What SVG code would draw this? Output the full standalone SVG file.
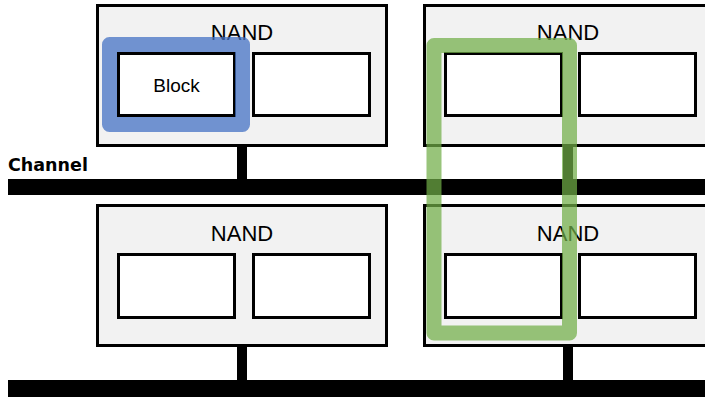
<svg xmlns="http://www.w3.org/2000/svg" width="705" height="399" viewBox="0 0 705 399">
  <style>
    .nand { fill: #f2f2f2; stroke: #000; stroke-width: 3; }
    .blk { fill: #fff; stroke: #000; stroke-width: 3; }
    .bus { fill: #000; }
    .lbl { font-family: "Liberation Sans", Arial, sans-serif; fill: #000; text-anchor: middle; }
    .ttl { font-size: 22px; }
    .sel { fill: none; stroke-width: 15; stroke-linejoin: round; }
  </style>

  <!-- channels and stems -->
  <g id="connectors">
    <rect class="bus" x="8" y="179" width="697" height="16"/>
    <rect class="bus" x="8" y="380" width="697" height="17"/>
    <rect class="bus" x="237" y="146" width="10" height="34"/>
    <rect class="bus" x="563" y="146" width="10" height="34"/>
    <rect class="bus" x="237" y="346" width="10" height="35"/>
    <rect class="bus" x="563" y="346" width="10" height="35"/>
  </g>

  <text x="8" y="171" font-family="'DejaVu Sans', Verdana, sans-serif" font-weight="bold" font-size="17.5">Channel</text>

  <g id="nand-top-left">
    <rect class="nand" x="97.5" y="5.5" width="289" height="140"/>
    <text class="lbl ttl" x="242" y="40">NAND</text>
    <rect class="blk" x="118.5" y="53.5" width="116" height="62"/>
    <text class="lbl" x="176.5" y="92" font-size="19">Block</text>
    <rect class="blk" x="253.5" y="53.5" width="116" height="62"/>
  </g>

  <g id="nand-top-right">
    <rect class="nand" x="424.5" y="5.5" width="289" height="140"/>
    <text class="lbl ttl" x="568" y="40">NAND</text>
    <rect class="blk" x="445.5" y="53.5" width="116" height="62"/>
    <rect class="blk" x="579.5" y="53.5" width="116" height="62"/>
  </g>

  <g id="nand-bottom-left">
    <rect class="nand" x="97.5" y="205.5" width="289" height="140"/>
    <text class="lbl ttl" x="242" y="241">NAND</text>
    <rect class="blk" x="118.5" y="254.5" width="116" height="63"/>
    <rect class="blk" x="253.5" y="254.5" width="116" height="63"/>
  </g>

  <g id="nand-bottom-right">
    <rect class="nand" x="424.5" y="205.5" width="289" height="140"/>
    <text class="lbl ttl" x="568" y="241">NAND</text>
    <rect class="blk" x="445.5" y="254.5" width="116" height="63"/>
    <rect class="blk" x="579.5" y="254.5" width="116" height="63"/>
  </g>

  <!-- highlight outlines -->
  <g id="block-highlight">
    <rect class="sel" x="109.5" y="44.5" width="133" height="80" stroke="#4472c4" stroke-opacity="0.75"/>
  </g>
  <g id="plane-highlight">
    <rect class="sel" x="434" y="45.5" width="135.5" height="287.5" stroke="#70ad47" stroke-opacity="0.72"/>
  </g>
</svg>
